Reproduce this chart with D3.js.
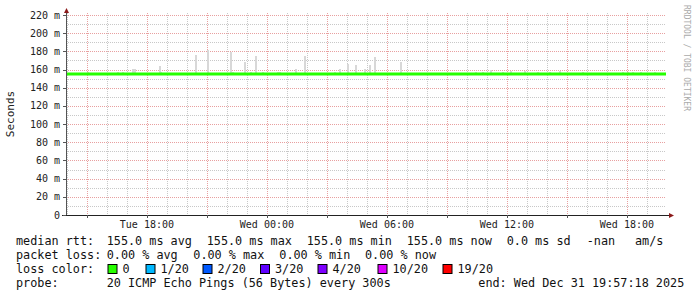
<!DOCTYPE html>
<html><head><meta charset="utf-8">
<script src="https://cdn.jsdelivr.net/npm/d3@7"></script>
<style>body{margin:0;background:#fff}svg{display:block}text{font-family:"DejaVu Sans Mono",monospace}</style>
</head><body>
<script>
const startTime = "2025-12-30 13:57:18";
const endTime = "2025-12-31 19:57:18";
const yMax = 220;
const yTickValues = [0,20,40,60,80,100,120,140,160,180,200,220];
const xTickLabels = ["2025-12-30 18:00","2025-12-31 00:00","2025-12-31 06:00","2025-12-31 12:00","2025-12-31 18:00"];
const medianRtt = 155.0;
const smokeBase = 154;
const smokeTimes = [
 "2025-12-30 15:00","2025-12-30 16:30","2025-12-30 16:45","2025-12-30 17:15","2025-12-30 17:20",
 "2025-12-30 18:35","2025-12-30 18:40","2025-12-30 20:25","2025-12-30 21:00","2025-12-30 22:10","2025-12-30 22:15",
 "2025-12-30 22:50","2025-12-30 23:10","2025-12-30 23:25","2025-12-30 23:45","2025-12-31 00:30","2025-12-31 00:35",
 "2025-12-31 01:25","2025-12-31 01:50","2025-12-31 03:20","2025-12-31 03:35","2025-12-31 04:00","2025-12-31 04:25",
 "2025-12-31 04:50","2025-12-31 05:05","2025-12-31 05:20","2025-12-31 06:40","2025-12-31 07:00","2025-12-31 07:20",
 "2025-12-31 10:25","2025-12-31 10:45","2025-12-31 11:10","2025-12-31 11:45","2025-12-31 12:10","2025-12-31 12:50",
 "2025-12-31 13:30","2025-12-31 14:05","2025-12-31 14:35","2025-12-31 15:45","2025-12-31 17:45","2025-12-31 18:00",
 "2025-12-31 18:15","2025-12-31 18:40","2025-12-31 19:20"];
const smokeTop = [
 157.6,157,157,160.6,160.6,
 164,157,176,181,179,157,
 168,157,175,157,157,157,
 160.6,175,157,160.6,166,165,
 160.6,165,174,168,156.5,156.5,
 157,157,159.5,157,158,158,
 157,157,158,157,157,157,
 157,157,157];
const legendRtt = ["155.0 ms avg","155.0 ms max","155.0 ms min","155.0 ms now","0.0 ms sd","-nan","am/s"];
const legendLoss = ["0.00 % avg","0.00 % max","0.00 % min","0.00 % now"];
const lossLabels = ["0","1/20","2/20","3/20","4/20","10/20","19/20"];
const lossColors = ["#26ff00","#00b8ff","#0059ff","#5e00ff","#7e00ff","#dd00ff","#ff0000"];
const probeText = "20 ICMP Echo Pings (56 Bytes) every 300s";
const endText = "end: Wed Dec 31 19:57:18 2025";

const W = 697, H = 297;
const parse = d3.timeParse("%Y-%m-%d %H:%M:%S");
const parseM = d3.timeParse("%Y-%m-%d %H:%M");
const x = d3.scaleTime().domain([parse(startTime), parse(endTime)]).range([66, 666]);
const y = d3.scaleLinear().domain([0, yMax]).range([215, 15]);
const svg = d3.select("body").append("svg").attr("width", W).attr("height", H);

// grid
const g = svg.append("g").attr("shape-rendering","crispEdges");
const minorY = d3.range(0, yMax + 1, 10).filter(v => v % 20 !== 0);
g.selectAll(".hmin").data(minorY).join("line")
  .attr("x1", 66).attr("x2", 666).attr("y1", d => Math.round(y(d))+0.5).attr("y2", d => Math.round(y(d))+0.5)
  .attr("stroke", "#c8c8c8").attr("stroke-dasharray", "1,1");
const hours = d3.timeHour.range(x.domain()[0], x.domain()[1]);
g.selectAll(".vmin").data(hours.filter(h => h.getHours() % 3 !== 0)).join("line")
  .attr("x1", d => Math.round(x(d))+0.5).attr("x2", d => Math.round(x(d))+0.5).attr("y1", 13).attr("y2", 215)
  .attr("stroke", "#c8c8c8").attr("stroke-dasharray", "1,1");
g.selectAll(".hmaj").data(yTickValues.filter(v => v > 0)).join("line")
  .attr("x1", 66).attr("x2", 666).attr("y1", d => Math.round(y(d))+0.5).attr("y2", d => Math.round(y(d))+0.5)
  .attr("stroke", "#e8a0a0").attr("stroke-dasharray", "1,1");
g.selectAll(".vmaj").data(hours.filter(h => h.getHours() % 3 === 0)).join("line")
  .attr("x1", d => Math.round(x(d))+0.5).attr("x2", d => Math.round(x(d))+0.5).attr("y1", 13).attr("y2", 215)
  .attr("stroke", "#e8a0a0").attr("stroke-dasharray", "1,1");

// smoke
const stepW = x(parseM("2025-12-31 00:05")) - x(parseM("2025-12-31 00:00"));
svg.append("g").attr("shape-rendering","crispEdges").selectAll("rect").data(smokeTimes).join("rect")
  .attr("x", d => Math.round(x(parseM(d)))).attr("width", Math.round(stepW))
  .attr("y", (d,i) => y(smokeTop[i])).attr("height", (d,i) => y(smokeBase) - y(smokeTop[i]))
  .attr("fill", "#d8d8d8");

// median line
svg.append("line").attr("x1", 66).attr("x2", 666).attr("y1", y(medianRtt)).attr("y2", y(medianRtt))
  .attr("stroke", lossColors[0]).attr("stroke-width", 3);

// axes
svg.append("line").attr("x1", 66.5).attr("x2", 66.5).attr("y1", 215).attr("y2", 12).attr("stroke", "#555").attr("shape-rendering","crispEdges");
svg.append("path").attr("d", "M64,13 L69,13 L66.5,8 Z").attr("fill", "#8b1a1a");
svg.append("line").attr("x1", 62).attr("x2", 670).attr("y1", 215.5).attr("y2", 215.5).attr("stroke", "#222").attr("shape-rendering","crispEdges");
svg.append("path").attr("d", "M669,213 L669,218 L674,215.5 Z").attr("fill", "#8b1a1a");

// y ticks
const yt = svg.append("g");
yt.selectAll("line").data(yTickValues).join("line")
  .attr("x1", 63).attr("x2", 66).attr("y1", d => Math.round(y(d))+0.5).attr("y2", d => Math.round(y(d))+0.5)
  .attr("stroke", "#555").attr("shape-rendering","crispEdges");
yt.selectAll("text").data(yTickValues).join("text")
  .attr("x", 60).attr("y", d => y(d) + 3.5).attr("text-anchor", "end")
  .attr("font-size", "10px").attr("fill", "#222")
  .text(d => d === 0 ? "0" : d + " m");

// x ticks
const fmt = d3.timeFormat("%a %H:%M");
svg.append("g").selectAll("text").data(xTickLabels).join("text")
  .attr("x", d => x(parseM(d))).attr("y", 228).attr("text-anchor", "middle")
  .attr("font-size", "10px").attr("fill", "#222").text(d => fmt(parseM(d)));
svg.append("g").selectAll("line").data(hours.filter(h => h.getHours() % 3 === 0)).join("line")
  .attr("x1", d => Math.round(x(d))+0.5).attr("x2", d => Math.round(x(d))+0.5).attr("y1", 215).attr("y2", 218)
  .attr("stroke", "#555").attr("shape-rendering","crispEdges");

// y title
svg.append("text").attr("transform", "translate(14,114) rotate(-90)").attr("text-anchor", "middle")
  .attr("font-size", "11px").attr("fill", "#222").text("Seconds");
// watermark
svg.append("text").attr("transform", "translate(684,5) rotate(90)").attr("text-anchor", "start")
  .attr("font-size", "8px").attr("fill", "#aaa").text("RRDTOOL / TOBI OETIKER");

// legend
const fs = "11.8px";
const L = svg.append("g").attr("font-size", fs).attr("fill", "#111");
const rttX = [106.7, 206.7, 306.7, 406.7, 506.7, 586.7, 635];
L.append("text").attr("x", 16).attr("y", 245).text("median rtt:");
L.selectAll(".r").data(legendRtt).join("text").attr("x", (d,i) => rttX[i]).attr("y", 245).text(d => d);
const lossX = [106.7, 193.3, 279.3, 365];
L.append("text").attr("x", 16).attr("y", 259).text("packet loss:");
L.selectAll(".l").data(legendLoss).join("text").attr("x", (d,i) => lossX[i]).attr("y", 259).text(d => d);
const sqX = [107.5, 145.5, 202.5, 260, 317.5, 377.5, 442.5];
L.append("text").attr("x", 16).attr("y", 273).text("loss color:");
L.selectAll(".sq").data(lossLabels).join("rect")
  .attr("x", (d,i) => sqX[i]+0.5).attr("y", 264.5).attr("width", 9).attr("height", 9)
  .attr("fill", (d,i) => lossColors[i]).attr("stroke", "#000").attr("stroke-width", 1);
L.selectAll(".lt").data(lossLabels).join("text").attr("x", (d,i) => sqX[i] + 15).attr("y", 273).text(d => d);
L.append("text").attr("x", 16).attr("y", 287).text("probe:");
L.append("text").attr("x", 106.7).attr("y", 287).text(probeText);
L.append("text").attr("x", 478.3).attr("y", 287).text(endText);
</script>
</body></html>
